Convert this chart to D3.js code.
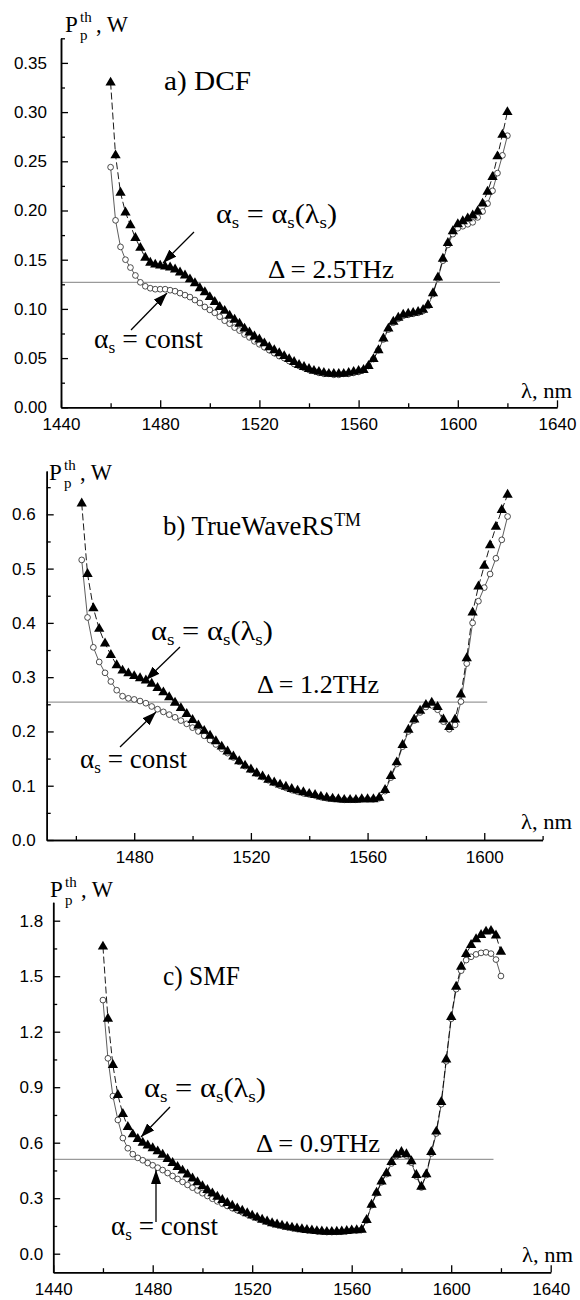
<!DOCTYPE html>
<html>
<head>
<meta charset="utf-8">
<script src="https://cdn.jsdelivr.net/npm/d3@7"></script>
<style>
  body { margin: 0; background: #fff; }
</style>
</head>
<body>
<div id="chart"></div>
<script>
/*
*    threshold pump power vs wavelength, three fibres
*/

var serif = "'Liberation Serif', 'Times New Roman', serif";
var sans = "'Liberation Sans', Arial, sans-serif";

// ---- data: a) DCF ----
var lamA = [1460,1462,1464,1466,1468,1470,1472,1474,1476,1478,
            1480,1482,1484,1486,1488,1490,1492,1494,1496,1498,
            1500,1502,1504,1506,1508,1510,1512,1514,1516,1518,
            1520,1522,1524,1526,1528,1530,1532,1534,1536,1538,
            1540,1542,1544,1546,1548,1550,1552,1554,1556,1558,
            1560,1562,1564,1566,1568,1570,1572,1574,1576,1578,
            1580,1582,1584,1586,1588,1590,1592,1594,1596,1598,
            1600,1602,1604,1606,1608,1610,1612,1614,1616,1618,
            1620];
var triA = [0.330,0.256,0.218,0.198,0.185,0.172,0.162,0.152,0.147,0.145,
            0.144,0.143,0.142,0.140,0.137,0.134,0.130,0.126,0.121,0.117,
            0.112,0.107,0.102,0.098,0.093,0.089,0.085,0.080,0.076,0.072,
            0.069,0.065,0.061,0.058,0.055,0.052,0.049,0.046,0.043,0.041,
            0.039,0.037,0.036,0.035,0.034,0.034,0.034,0.034,0.035,0.036,
            0.037,0.038,0.042,0.049,0.058,0.070,0.080,0.087,0.091,0.094,
            0.095,0.096,0.097,0.099,0.104,0.116,0.132,0.151,0.167,0.179,
            0.186,0.189,0.192,0.195,0.199,0.207,0.219,0.234,0.255,0.277,
            0.300];
var circA = [0.244,0.190,0.163,0.150,0.142,0.134,0.127,0.123,0.121,0.120,
             0.120,0.120,0.119,0.118,0.116,0.114,0.112,0.109,0.106,0.102,
             0.099,0.096,0.092,0.088,0.085,0.081,0.078,0.074,0.071,0.067,
             0.064,0.061,0.058,0.055,0.052,0.050,0.047,0.044,0.042,0.040,
             0.038,0.037,0.035,0.034,0.034,0.033,0.033,0.034,0.034,0.035,
             0.036,0.038,0.042,0.049,0.058,0.069,0.079,0.086,0.090,0.093,
             0.094,0.095,0.096,0.098,0.103,0.115,0.131,0.149,0.165,0.176,
             0.182,0.184,0.186,0.188,0.193,0.199,0.207,0.220,0.238,0.256,
             0.276];

// ---- data: b) TrueWaveRS ----
var lamB = [1462,1464,1466,1468,1470,1472,1474,1476,1478,1480,
            1482,1484,1486,1488,1490,1492,1494,1496,1498,1500,
            1502,1504,1506,1508,1510,1512,1514,1516,1518,1520,
            1522,1524,1526,1528,1530,1532,1534,1536,1538,1540,
            1542,1544,1546,1548,1550,1552,1554,1556,1558,1560,
            1562,1564,1566,1568,1570,1572,1574,1576,1578,1580,
            1582,1584,1586,1588,1590,1592,1594,1596,1598,1600,
            1602,1604,1606,1608];
var triB = [0.620,0.490,0.427,0.389,0.362,0.341,0.322,0.312,0.307,0.302,
            0.298,0.294,0.288,0.280,0.272,0.263,0.253,0.243,0.232,0.221,
            0.211,0.201,0.192,0.182,0.172,0.163,0.154,0.145,0.137,0.130,
            0.123,0.117,0.111,0.106,0.102,0.098,0.094,0.091,0.088,0.085,
            0.083,0.080,0.078,0.076,0.075,0.074,0.074,0.074,0.075,0.075,
            0.075,0.078,0.092,0.118,0.143,0.175,0.203,0.222,0.238,0.249,
            0.253,0.245,0.222,0.208,0.222,0.268,0.335,0.419,0.467,0.505,
            0.543,0.577,0.608,0.636];
var circB = [0.516,0.410,0.355,0.328,0.308,0.292,0.276,0.265,0.261,0.259,
             0.256,0.252,0.246,0.241,0.236,0.231,0.226,0.220,0.214,0.207,
             0.200,0.192,0.184,0.176,0.168,0.160,0.152,0.144,0.136,0.129,
             0.122,0.116,0.110,0.105,0.100,0.096,0.092,0.089,0.086,0.084,
             0.082,0.079,0.077,0.076,0.075,0.074,0.074,0.074,0.075,0.075,
             0.075,0.077,0.090,0.115,0.140,0.172,0.200,0.220,0.235,0.245,
             0.248,0.240,0.218,0.204,0.212,0.255,0.325,0.400,0.440,0.465,
             0.490,0.519,0.553,0.596];

// ---- data: c) SMF ----
var lamC = lamA.slice();
var triC = [1.660,1.270,1.020,0.858,0.755,0.685,0.645,0.620,0.600,0.585,
            0.570,0.553,0.535,0.512,0.490,0.469,0.449,0.428,0.407,0.386,
            0.365,0.344,0.326,0.308,0.290,0.274,0.259,0.245,0.232,0.219,
            0.206,0.195,0.184,0.174,0.165,0.158,0.152,0.146,0.141,0.136,
            0.132,0.128,0.125,0.122,0.120,0.118,0.118,0.119,0.120,0.123,
            0.126,0.127,0.130,0.182,0.265,0.330,0.390,0.435,0.495,0.535,
            0.550,0.538,0.500,0.425,0.362,0.430,0.550,0.660,0.820,1.050,
            1.280,1.443,1.551,1.620,1.669,1.700,1.723,1.741,1.745,1.720,
            1.632];
var circC = [1.371,1.056,0.852,0.723,0.625,0.570,0.538,0.518,0.505,0.490,
             0.478,0.465,0.452,0.436,0.420,0.404,0.388,0.372,0.357,0.342,
             0.327,0.312,0.297,0.283,0.270,0.258,0.246,0.235,0.224,0.213,
             0.202,0.192,0.182,0.172,0.163,0.156,0.150,0.144,0.139,0.134,
             0.130,0.127,0.124,0.121,0.119,0.117,0.117,0.118,0.119,0.122,
             0.125,0.126,0.129,0.180,0.262,0.327,0.386,0.430,0.488,0.528,
             0.543,0.530,0.492,0.418,0.358,0.425,0.542,0.650,0.808,1.040,
             1.270,1.430,1.530,1.587,1.605,1.618,1.626,1.629,1.622,1.590,
             1.501];

// thresholds (horizontal grey lines) and their labels
var titles = ["a) DCF", "b) TrueWaveRS", "c) SMF"];
var deltas = ["\u0394 = 2.5THz", "\u0394 = 1.2THz", "\u0394 = 0.9THz"];
var levels = [0.127, 0.254, 0.51];
var levelEnd = [1617, 1601, 1617];

// tick values
var xTicksA = [1440, 1480, 1520, 1560, 1600, 1640];
var xTicksB = [1480, 1520, 1560, 1600];
var xMinorA = [1460, 1500, 1540, 1580, 1620];
var yTicksA = [0, 0.05, 0.10, 0.15, 0.20, 0.25, 0.30, 0.35];
var yMinorA = [0.025, 0.075, 0.125, 0.175, 0.225, 0.275, 0.325, 0.375];
var yTicksB = [0, 0.1, 0.2, 0.3, 0.4, 0.5, 0.6];
var yMinorB = [0.05, 0.15, 0.25, 0.35, 0.45, 0.55, 0.65];
var yTicksC = [0, 0.3, 0.6, 0.9, 1.2, 1.5, 1.8];
var yMinorC = [0.15, 0.45, 0.75, 1.05, 1.35, 1.65];

var svg = d3.select("#chart").append("svg").attr("width", 580).attr("height", 1300);

svg.append("defs").append("marker")
    .attr("id", "head").attr("viewBox", "0 0 14 10")
    .attr("refX", 14).attr("refY", 5)
    .attr("markerUnits", "userSpaceOnUse")
    .attr("markerWidth", 14).attr("markerHeight", 10)
    .attr("orient", "auto")
  .append("path").attr("d", "M0,0 L14,5 L0,10 Z").attr("fill", "#000");

// text boxes: [x, baseline, width]
var panels = [
  { lam: lamA, tri: triA, circ: circA, i: 0,
    xDomain: [1440, 1640], xRange: [61, 557], yDomain: [0, 0.375], yRange: [407.3, 38.3],
    xTicks: xTicksA, xMinor: xMinorA, yTicks: yTicksA, yMinor: yMinorA, yFmt: ".2f", yPad: 14,
    title: [164, 90, 87], ylab: [65, 32], xlab: [521, 398],
    alpha: [216, 223, 121], delta: [268, 278, 126], cnst: [94, 348, 109],
    arr1: [[194, 232], [163, 263]], arr2: [[131, 330], [167, 293]] },
  { lam: lamB, tri: triB, circ: circB, i: 1,
    xDomain: [1450, 1620], xRange: [46.7, 542.6], yDomain: [0, 0.68], yRange: [840, 470.9],
    xTicks: xTicksB, xMinor: xMinorA, yTicks: yTicksB, yMinor: yMinorB, yFmt: ".1f", yPad: 11,
    title: [163, 535, 198], ylab: [49, 480], xlab: [521, 829],
    alpha: [151, 640, 122], delta: [257, 693, 122], cnst: [80, 768, 107],
    arr1: [[180, 647], [146, 680]], arr2: [[120, 747], [156, 712]] },
  { lam: lamC, tri: triC, circ: circC, i: 2,
    xDomain: [1440, 1640], xRange: [53.2, 550.7], yDomain: [-0.1, 1.9], yRange: [1272.2, 902.2],
    xTicks: xTicksA, xMinor: xMinorA, yTicks: yTicksC, yMinor: yMinorC, yFmt: ".1f", yPad: 10,
    title: [163, 985, 77], ylab: [50, 897], xlab: [522, 1262],
    alpha: [144, 1097, 122], delta: [256, 1152, 124], cnst: [111, 1235, 107],
    arr1: [[170, 1107], [141, 1137]], arr2: [[156, 1222], [156, 1170]] }
];

function styleAxis(sel) {
  sel.attr("font-family", sans).attr("font-size", 17);
  sel.select(".domain").attr("stroke", "#000").attr("stroke-width", 1.5);
  sel.selectAll(".tick line").attr("stroke", "#000").attr("stroke-width", 1.3);
  sel.selectAll(".tick text").attr("fill", "#000");
}

function serifText(g, pos, size) {
  var t = g.append("text").attr("x", pos[0]).attr("y", pos[1])
      .attr("font-family", serif).attr("font-size", size).attr("fill", "#000");
  if (pos[2]) t.attr("textLength", pos[2]).attr("lengthAdjust", "spacingAndGlyphs");
  return t;
}

// alpha_s label with subscripts
function alphaText(g, pos, rest) {
  var t = serifText(g, pos, 27);
  t.append("tspan").text("\u03b1");
  t.append("tspan").attr("font-size", 17).attr("dy", 5).text("s");
  if (rest == "const") {
    t.append("tspan").attr("dy", -5).text(" = const");
  } else {
    t.append("tspan").attr("dy", -5).text(" = \u03b1");
    t.append("tspan").attr("font-size", 17).attr("dy", 5).text("s");
    t.append("tspan").attr("dy", -5).text("(\u03bb");
    t.append("tspan").attr("font-size", 17).attr("dy", 5).text("s");
    t.append("tspan").attr("dy", -5).text(")");
  }
}

panels.forEach(function(p) {
  var x = d3.scaleLinear().domain(p.xDomain).range(p.xRange);
  var y = d3.scaleLinear().domain(p.yDomain).range(p.yRange);
  var g = svg.append("g");
  var y0 = y(p.yDomain[0]);

  // threshold line
  g.append("line")
    .attr("x1", x(p.xDomain[0])).attr("x2", x(levelEnd[p.i]))
    .attr("y1", y(levels[p.i])).attr("y2", y(levels[p.i]))
    .attr("stroke", "#9a9a9a").attr("stroke-width", 1.2);

  // axes
  g.append("g").attr("transform", "translate(0," + y0 + ")")
    .call(d3.axisBottom(x).tickValues(p.xMinor).tickSizeInner(-4).tickSizeOuter(0).tickFormat(""))
    .call(styleAxis);
  g.append("g").attr("transform", "translate(0," + y0 + ")")
    .call(d3.axisBottom(x).tickValues(p.xTicks).tickSizeInner(-7).tickSizeOuter(0)
          .tickPadding(11).tickFormat(d3.format("d")))
    .call(styleAxis);
  g.append("g").attr("transform", "translate(" + p.xRange[0] + ",0)")
    .call(d3.axisLeft(y).tickValues(p.yMinor).tickSizeInner(-4).tickSizeOuter(0).tickFormat(""))
    .call(styleAxis);
  g.append("g").attr("transform", "translate(" + p.xRange[0] + ",0)")
    .call(d3.axisLeft(y).tickValues(p.yTicks).tickSizeInner(-7).tickSizeOuter(0)
          .tickPadding(p.yPad).tickFormat(d3.format(p.yFmt)))
    .call(styleAxis);

  // series
  var triData = d3.zip(p.lam, p.tri);
  var circData = d3.zip(p.lam, p.circ);
  var line = d3.line().x(function(d) { return x(d[0]); }).y(function(d) { return y(d[1]); });

  g.append("path").datum(circData).attr("d", line)
    .attr("fill", "none").attr("stroke", "#333").attr("stroke-width", 0.8);
  g.append("path").datum(triData).attr("d", line)
    .attr("fill", "none").attr("stroke", "#000").attr("stroke-width", 0.9)
    .attr("stroke-dasharray", "7,3");

  g.selectAll(".circ").data(circData).join("path").attr("class", "circ")
    .attr("d", d3.symbol(d3.symbolCircle, 26))
    .attr("transform", function(d) { return "translate(" + x(d[0]) + "," + y(d[1]) + ")"; })
    .attr("fill", "#fff").attr("stroke", "#222").attr("stroke-width", 0.8);
  g.selectAll(".tri").data(triData).join("path").attr("class", "tri")
    .attr("d", d3.symbol(d3.symbolTriangle, 46))
    .attr("transform", function(d) { return "translate(" + x(d[0]) + "," + y(d[1]) + ")"; })
    .attr("fill", "#000");

  // title
  var tt = serifText(g, p.title, 27).text(titles[p.i]);
  if (p.i == 1) {
    tt.append("tspan").attr("font-size", 18).attr("dy", -9).text("TM");
  }

  // y label P_p^th, W  (super- and subscript kept apart)
  serifText(g, [p.ylab[0], p.ylab[1]], 23).text("P");
  serifText(g, [p.ylab[0] + 15, p.ylab[1] - 10], 15).text("th");
  serifText(g, [p.ylab[0] + 15, p.ylab[1] + 8], 15).text("p");
  serifText(g, [p.ylab[0] + 31, p.ylab[1], 32], 23).text(", W");

  // x label
  serifText(g, [p.xlab[0], p.xlab[1], 51], 21).text("\u03bb, nm");

  // annotations
  alphaText(g, p.alpha, "lambda");
  alphaText(g, p.cnst, "const");
  serifText(g, p.delta, 25).text(deltas[p.i]);

  [p.arr1, p.arr2].forEach(function(a) {
    g.append("line")
      .attr("x1", a[0][0]).attr("y1", a[0][1]).attr("x2", a[1][0]).attr("y2", a[1][1])
      .attr("stroke", "#000").attr("stroke-width", 1.3).attr("marker-end", "url(#head)");
  });
});
</script>
</body>
</html>
